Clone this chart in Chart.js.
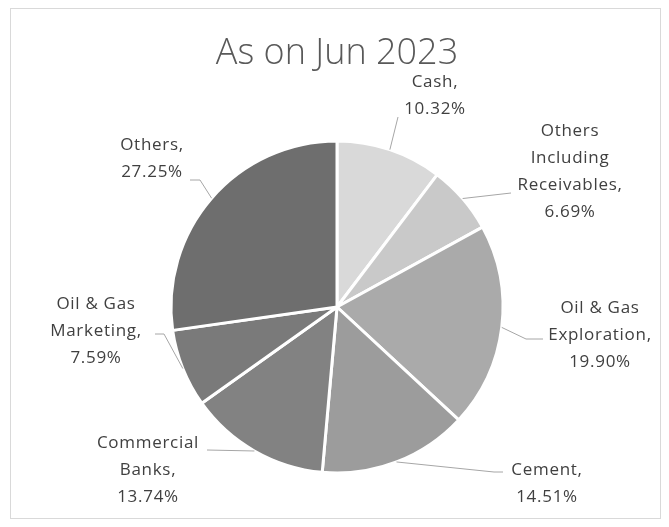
<!DOCTYPE html>
<html>
<head>
<meta charset="utf-8">
<title>As on Jun 2023</title>
<script src="https://cdn.jsdelivr.net/npm/chart.js@4.4.0/dist/chart.umd.min.js"></script>
<style>
    html, body { margin: 0; padding: 0; background: #fff; }
    #wrapper { width: 669px; height: 527px; }
</style>
</head>
<body>
<div id="wrapper"><canvas id="sectorChart" width="669" height="527"></canvas></div>
<script>
// Sector split of the portfolio
const chartTitle = 'As on Jun 2023';
const categories = ['Cash', 'Others Including Receivables', 'Oil & Gas Exploration', 'Cement', 'Commercial Banks', 'Oil & Gas Marketing', 'Others'];
const shares = [10.32, 6.69, 19.90, 14.51, 13.74, 7.59, 27.25];
const sliceColors = ['#d9d9d9', '#c9c9c9', '#aaaaaa', '#9c9c9c', '#828282', '#7a7a7a', '#6e6e6e'];

// Where each data label sits and where its leader line ends
const labelSpots = [
    { x: 435, y: 82, end: [398, 117] },
    { x: 570, y: 131, end: [511, 193] },
    { x: 600, y: 308, end: [543, 339], elbow: [526, 339] },
    { x: 547, y: 470, end: [503, 472], elbow: [494, 472] },
    { x: 148, y: 443, end: [207, 450] },
    { x: 96, y: 304, end: [155, 334], elbow: [164, 334] },
    { x: 152, y: 145, end: [190, 180], elbow: [200, 180] }
];

const labelFont = '17px "Open Sans", "Noto Sans", sans-serif';
const lineGap = 27;

// Break a category name into lines no wider than maxWidth
function wrapText(ctx, text, maxWidth) {
    const words = text.split(' ');
    const lines = [];
    let current = '';
    words.forEach(word => {
        const test = current ? current + ' ' + word : word;
        if (current && ctx.measureText(test).width > maxWidth) {
            lines.push(current);
            current = word;
        } else {
            current = test;
        }
    });
    if (current) lines.push(current);
    return lines;
}

const framePlugin = {
    id: 'frame',
    beforeDraw(chart) {
        const ctx = chart.ctx;
        ctx.save();
        ctx.strokeStyle = '#d9d9d9';
        ctx.lineWidth = 1;
        ctx.strokeRect(10.5, 8.5, 650, 510);

        ctx.fillStyle = '#595959';
        ctx.font = '300 36px "Open Sans", "Noto Sans", sans-serif';
        ctx.textAlign = 'center';
        ctx.textBaseline = 'middle';
        ctx.fillText(chartTitle, 337, 54);
        ctx.restore();
    }
};

const labelPlugin = {
    id: 'sliceLabels',
    afterDatasetsDraw(chart) {
        const ctx = chart.ctx;
        const arcs = chart.getDatasetMeta(0).data;
        ctx.save();
        ctx.font = labelFont;
        ctx.letterSpacing = '0.7px';
        ctx.textAlign = 'center';
        ctx.textBaseline = 'middle';

        arcs.forEach((arc, i) => {
            const spot = labelSpots[i];
            const p = arc.getProps(['x', 'y', 'startAngle', 'endAngle', 'outerRadius'], true);
            const mid = (p.startAngle + p.endAngle) / 2;
            const sx = p.x + Math.cos(mid) * p.outerRadius;
            const sy = p.y + Math.sin(mid) * p.outerRadius;

            // leader line
            ctx.strokeStyle = '#a6a6a6';
            ctx.lineWidth = 1;
            ctx.beginPath();
            ctx.moveTo(sx, sy);
            if (spot.elbow) ctx.lineTo(spot.elbow[0], spot.elbow[1]);
            ctx.lineTo(spot.end[0], spot.end[1]);
            ctx.stroke();

            // label text: category name + share
            const lines = wrapText(ctx, categories[i] + ',', 125);
            lines.push(shares[i].toFixed(2) + '%');
            ctx.fillStyle = '#404040';
            lines.forEach((line, k) => {
                ctx.fillText(line, spot.x, spot.y + k * lineGap);
            });
        });
        ctx.restore();
    }
};

const sectorChart = new Chart(document.getElementById('sectorChart'), {
    type: 'pie',
    data: {
        labels: categories,
        datasets: [{
            data: shares,
            backgroundColor: sliceColors,
            borderColor: '#ffffff',
            borderWidth: 3,
            radius: 166
        }]
    },
    options: {
        responsive: false,
        animation: false,
        layout: {
            padding: { left: 170, right: 165, top: 140, bottom: 53 }
        },
        plugins: {
            legend: { display: false },
            tooltip: { enabled: false },
            title: { display: false }
        }
    },
    plugins: [framePlugin, labelPlugin]
});
</script>
</body>
</html>
